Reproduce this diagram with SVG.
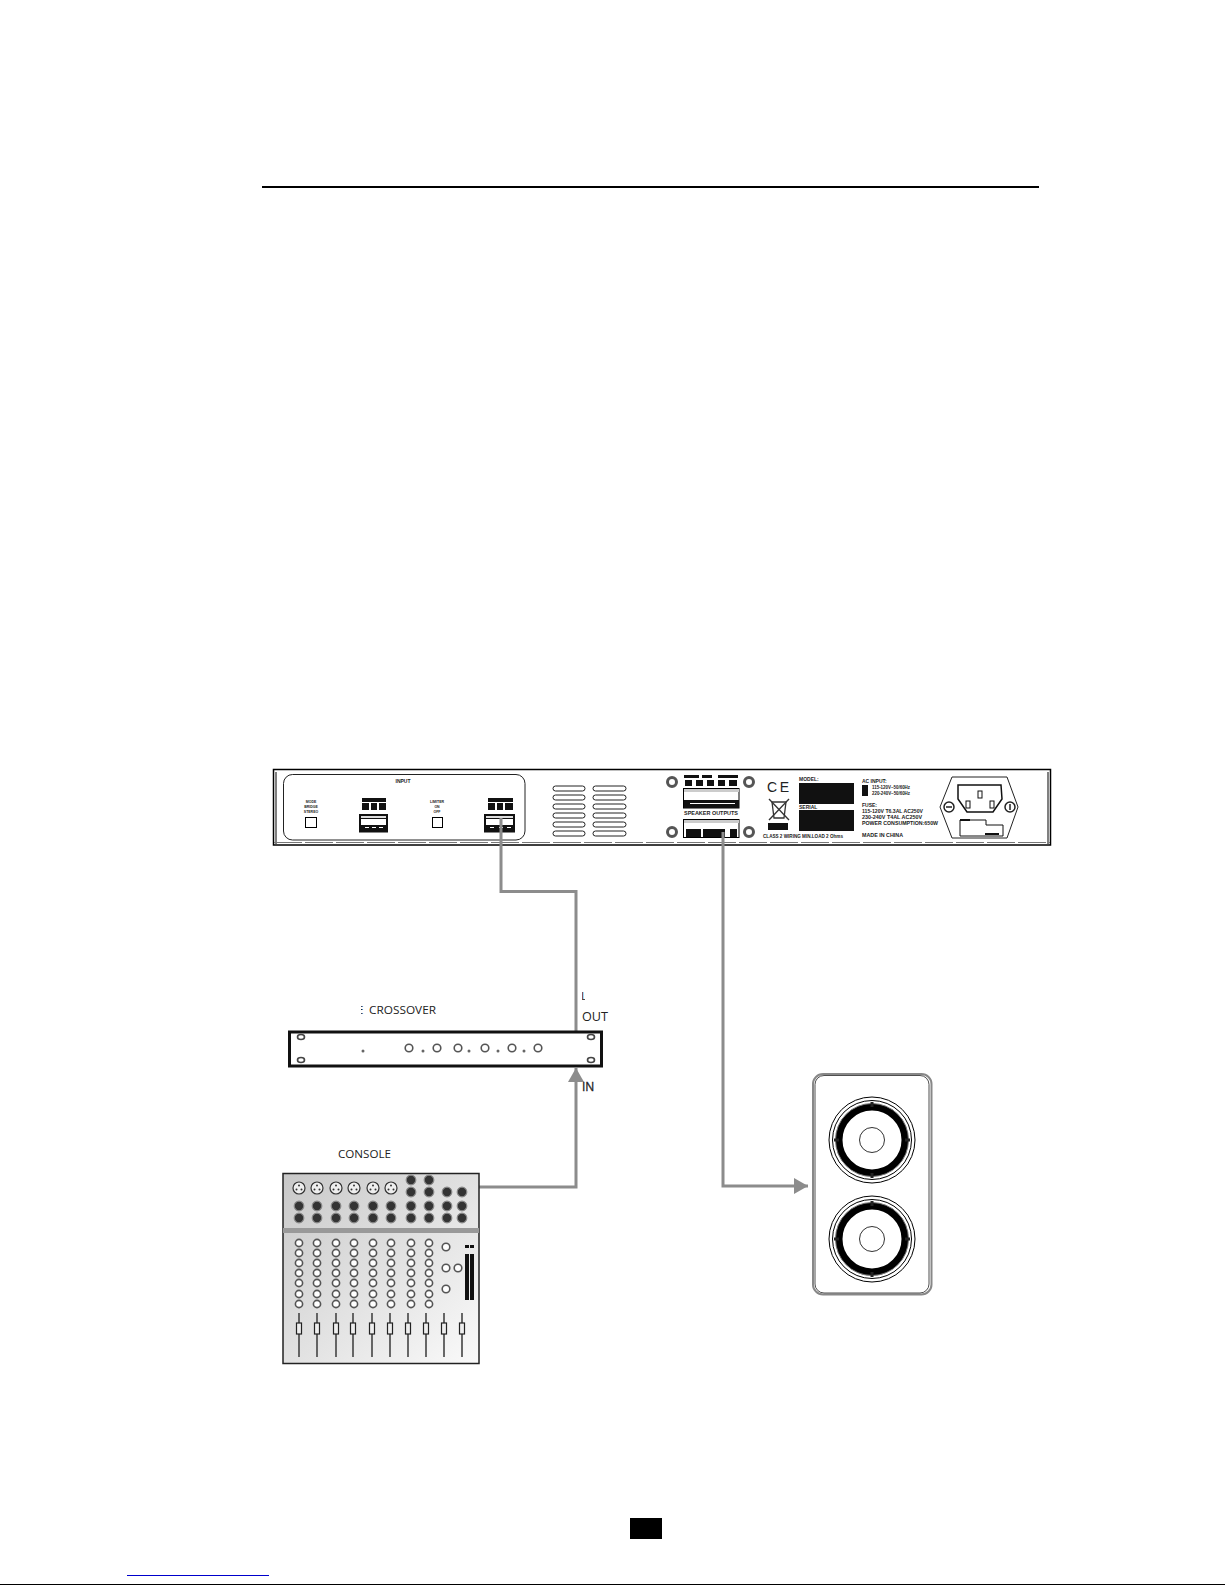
<svg xmlns="http://www.w3.org/2000/svg" xmlns:xlink="http://www.w3.org/1999/xlink" width="1225" height="1585" viewBox="0 0 1225 1585">
<style>
.t{font-family:"Liberation Sans",Arial,sans-serif;font-size:5px;fill:#222;font-weight:bold}
.l{font-family:"Open Sans","Liberation Sans",sans-serif;font-size:11.5px;fill:#222}
.w{fill:#fff;stroke:#000;stroke-width:1}
.b{fill:#111}
.c{fill:none;stroke:#8c8c8c;stroke-width:3}
.vent{fill:#fff;stroke:#222;stroke-width:1}
.screw{fill:#fff;stroke:#555;stroke-width:3}
.knob{fill:#fff;stroke:#555;stroke-width:1.6}
.hole{fill:#fff;stroke:#444;stroke-width:1.6}
</style>
<defs>
<linearGradient id="g" x1="0" y1="0" x2="1" y2="1"><stop offset="0" stop-color="#c8c8c8"/><stop offset="1" stop-color="#fafafa"/></linearGradient>
<marker id="arr" markerUnits="userSpaceOnUse" markerWidth="15" markerHeight="16" refX="14" refY="8" orient="auto"><path d="M0,0L14,8L0,16Z" fill="#8c8c8c"/></marker>
<circle id="jack" r="4.800" fill="#333" stroke="#888" stroke-width="1.200"/>
<g id="xlr"><circle r="6" fill="#eee" stroke="#333" stroke-width="1.200"/><circle cx="-2.500" cy="1.500" r="1" fill="#333"/><circle cx="2.500" cy="1.500" r="1" fill="#333"/><circle cy="-2.500" r="1" fill="#333"/></g>
<g id="col"><circle class="knob" cy="0" r="3.600"/><circle class="knob" cy="10" r="3.600"/><circle class="knob" cy="20" r="3.600"/><circle class="knob" cy="30" r="3.600"/><circle class="knob" cy="40" r="3.600"/><circle class="knob" cy="51" r="3.600"/><circle class="knob" cy="61" r="3.600"/></g>
<g id="fader"><line y1="1313" y2="1357" stroke="#444" stroke-width="1.600"/><rect x="-2.500" y="1323" width="5" height="11" fill="#eee" stroke="#222" stroke-width="1.200"/></g>
<g id="drv"><circle r="43" fill="#fff" stroke="#000" stroke-width="1"/><circle r="39.500" fill="#fff" stroke="#000" stroke-width="1"/><circle r="33" fill="#fff" stroke="#000" stroke-width="7"/><circle r="36.500" fill="none" stroke="#777" stroke-width="1"/><circle r="12.500" fill="#fff" stroke="#333" stroke-width="1"/><path d="M-1.500,-38h3v5h-3zM-1.500,33h3v5h-3zM-38,-1.500h5v3h-5zM33,-1.500h5v3h-5z" fill="#222"/></g>
<clipPath id="e"><rect x="361" y="1000" width="4" height="20"/></clipPath>
<clipPath id="ll"><rect x="582" y="985" width="3" height="20"/></clipPath>
</defs>
<rect width="1225" height="1585" fill="#fff"/>
<g id="page">
<rect x="262" y="186" width="777" height="2" fill="#000"/>
<rect x="630" y="1518" width="32" height="21" fill="#000"/>
<rect x="127" y="1575" width="142" height="1" fill="#00c"/>
<rect x="0" y="1584" width="1225" height="1" fill="#000"/>
</g>
<g id="amplifier">
<rect x="273.500" y="769.500" width="777" height="75.500" fill="#fff" stroke="#000" stroke-width="1.500"/>
<line x1="276" y1="772" x2="276" y2="844" stroke="#000"/>
<line x1="1048" y1="772" x2="1048" y2="844" stroke="#000"/>
<line x1="274" y1="842.500" x2="1050" y2="842.500" stroke="#777" stroke-dasharray="28 3"/>
<rect x="283.500" y="774.500" width="241.500" height="65.500" rx="9" fill="#fff" stroke="#222" stroke-width="1"/>
<text class="t" x="403" y="783" text-anchor="middle">INPUT</text>
<text class="t" x="311" y="803" text-anchor="middle" style="font-size:3.500px">MODE</text>
<text class="t" x="311" y="808" text-anchor="middle" style="font-size:3.500px">BRIDGE</text>
<text class="t" x="311" y="813" text-anchor="middle" style="font-size:3.500px">STEREO</text>
<text class="t" x="437" y="803" text-anchor="middle" style="font-size:3.500px">LIMITER</text>
<text class="t" x="437" y="808" text-anchor="middle" style="font-size:3.500px">ON</text>
<text class="t" x="437" y="813" text-anchor="middle" style="font-size:3.500px">OFF</text>
<rect class="w" x="305.500" y="817.500" width="11" height="10"/>
<rect class="w" x="432.500" y="817.500" width="10" height="10"/>
<rect class="b" x="362" y="798" width="24" height="4"/>
<rect class="b" x="362" y="803" width="7" height="7"/><rect class="b" x="371" y="803" width="6" height="7"/><rect class="b" x="379" y="803" width="7" height="7"/>
<rect class="b" x="359" y="814" width="29" height="18.500"/>
<rect x="361" y="816" width="25" height="2" fill="#ddd"/>
<rect x="361" y="819" width="25" height="6" fill="#fff"/>
<rect x="365" y="827" width="4" height="1" fill="#fff"/><rect x="372" y="827" width="4" height="1" fill="#fff"/><rect x="379" y="827" width="4" height="1" fill="#fff"/>
<rect class="b" x="488" y="798" width="25" height="4"/>
<rect class="b" x="488" y="803" width="7" height="7"/><rect class="b" x="497" y="803" width="6" height="7"/><rect class="b" x="505" y="803" width="8" height="7"/>
<rect class="b" x="484" y="814" width="31" height="18.500"/>
<rect x="486" y="816" width="27" height="2" fill="#ddd"/>
<rect x="486" y="819" width="27" height="6" fill="#fff"/>
<rect x="490" y="827" width="4" height="1" fill="#fff"/><rect x="499" y="827" width="4" height="1" fill="#fff"/><rect x="507" y="827" width="4" height="1" fill="#fff"/>
<g id="vents">
<rect class="vent" x="553" y="786" width="32" height="5" rx="2.500"/><rect class="vent" x="593" y="786" width="33" height="5" rx="2.500"/>
<rect class="vent" x="553" y="795" width="32" height="5" rx="2.500"/><rect class="vent" x="593" y="795" width="33" height="5" rx="2.500"/>
<rect class="vent" x="553" y="804" width="32" height="5" rx="2.500"/><rect class="vent" x="593" y="804" width="33" height="5" rx="2.500"/>
<rect class="vent" x="553" y="813" width="32" height="5" rx="2.500"/><rect class="vent" x="593" y="813" width="33" height="5" rx="2.500"/>
<rect class="vent" x="553" y="822" width="32" height="5" rx="2.500"/><rect class="vent" x="593" y="822" width="33" height="5" rx="2.500"/>
<rect class="vent" x="553" y="831" width="32" height="5" rx="2.500"/><rect class="vent" x="593" y="831" width="33" height="5" rx="2.500"/>
</g>
<circle class="screw" cx="672" cy="782" r="4.500"/><circle class="screw" cx="749" cy="782" r="4.500"/>
<circle class="screw" cx="672" cy="832" r="4.500"/><circle class="screw" cx="749" cy="832" r="4.500"/>
<rect class="b" x="684" y="775" width="15" height="3"/><rect class="b" x="702" y="775" width="10" height="3"/><rect class="b" x="718" y="775" width="20" height="3"/>
<rect class="b" x="685" y="780" width="7" height="6"/><rect class="b" x="696" y="780" width="7" height="6"/><rect class="b" x="707" y="780" width="7" height="6"/><rect class="b" x="718" y="780" width="7" height="6"/><rect class="b" x="729" y="780" width="8" height="6"/>
<rect class="w" x="683.500" y="788.500" width="55.500" height="19.500"/>
<rect x="684" y="789" width="55" height="3" fill="#ccc"/>
<rect class="b" x="684" y="800" width="55" height="8"/>
<rect x="690" y="803" width="45" height="1" fill="#fff"/>
<text class="t" x="711" y="815" text-anchor="middle" textLength="54" lengthAdjust="spacingAndGlyphs">SPEAKER OUTPUTS</text>
<rect class="w" x="683.500" y="819.500" width="55.500" height="18"/>
<rect x="684" y="820" width="55" height="3" fill="#ccc"/>
<rect class="b" x="686" y="829" width="15" height="8"/><rect class="b" x="703" y="829" width="22" height="8"/><rect class="b" x="730" y="829" width="7" height="8"/>
<text x="767" y="792" textLength="22" style="font-family:'Liberation Sans',sans-serif;font-size:14px;fill:#222">CE</text>
<g id="weee" stroke="#333" stroke-width="1.300" fill="none"><path d="M772,802L786,802L784,818L774,818Z"/><line x1="769" y1="799" x2="789" y2="820"/><line x1="789" y1="799" x2="769" y2="820"/></g>
<rect class="b" x="768" y="823" width="20" height="7"/>
<text class="t" x="799" y="781">MODEL:</text>
<rect class="b" x="799" y="783" width="55" height="21"/>
<text class="t" x="799" y="809">SERIAL</text>
<rect class="b" x="799" y="810" width="55" height="21"/>
<text class="t" x="763" y="838" textLength="80" lengthAdjust="spacingAndGlyphs">CLASS 2 WIRING MIN.LOAD 2 Ohms</text>
<text class="t" x="862" y="783">AC INPUT:</text>
<rect class="b" x="862" y="785" width="6" height="11"/>
<text class="t" x="872" y="789" textLength="38" lengthAdjust="spacingAndGlyphs">115-120V~50/60Hz</text>
<text class="t" x="872" y="795" textLength="38" lengthAdjust="spacingAndGlyphs">220-240V~50/60Hz</text>
<text class="t" x="862" y="807">FUSE:</text>
<text class="t" x="862" y="813" textLength="61" lengthAdjust="spacingAndGlyphs">115-120V T6.3AL AC250V</text>
<text class="t" x="862" y="819" textLength="60" lengthAdjust="spacingAndGlyphs">230-240V T4AL AC250V</text>
<text class="t" x="862" y="825" textLength="76" lengthAdjust="spacingAndGlyphs">POWER CONSUMPTION:650W</text>
<text class="t" x="862" y="837" textLength="41" lengthAdjust="spacingAndGlyphs">MADE IN CHINA</text>
<g id="iec">
<path d="M952,777L1007,777L1018,807L1007,838L952,838L940,807Z" fill="#fff" stroke="#222" stroke-width="1"/>
<circle cx="949" cy="807" r="5" fill="#fff" stroke="#222" stroke-width="1.500"/><line x1="946" y1="807" x2="952" y2="807" stroke="#222" stroke-width="1.500"/>
<circle cx="1010" cy="807" r="5" fill="#fff" stroke="#222" stroke-width="1.500"/><line x1="1010" y1="804" x2="1010" y2="810" stroke="#222" stroke-width="1.500"/>
<path d="M958,785L1001,785L1002,799L993,812L967,812L958,799Z" fill="#fff" stroke="#111" stroke-width="1.500"/>
<rect x="966" y="801" width="4" height="7" fill="#fff" stroke="#111"/><rect x="978" y="791" width="4" height="7" fill="#fff" stroke="#111"/><rect x="990" y="801" width="4" height="7" fill="#fff" stroke="#111"/>
<path d="M960,820L986,820L986,825L1003,825L1003,836L960,836Z" fill="#fff" stroke="#111" stroke-width="1"/>
<rect x="960" y="819" width="10" height="2" fill="#111"/><rect x="985" y="833" width="14" height="2" fill="#111"/>
</g>
</g>
<g id="connectors">
<path class="c" d="M501,818V891.500H576V1031"/>
<path class="c" d="M479,1187H576V1068" marker-end="url(#arr)"/>
<path class="c" d="M723,832V1186H808" marker-end="url(#arr)"/>
</g>
<g id="crossover">
<rect x="289.500" y="1032" width="312" height="34" fill="#fff" stroke="#111" stroke-width="3"/>
<ellipse class="hole" cx="301" cy="1037" rx="3.500" ry="2.500"/><ellipse class="hole" cx="301" cy="1060" rx="3.500" ry="2.500"/>
<ellipse class="hole" cx="591" cy="1037" rx="3.500" ry="2.500"/><ellipse class="hole" cx="591" cy="1060" rx="3.500" ry="2.500"/>
<circle class="knob" cx="409" cy="1048" r="3.800"/><circle class="knob" cx="437" cy="1048" r="3.800"/><circle class="knob" cx="458" cy="1048" r="3.800"/><circle class="knob" cx="485" cy="1048" r="3.800"/><circle class="knob" cx="512" cy="1048" r="3.800"/><circle class="knob" cx="538" cy="1048" r="3.800"/>
<circle cx="363" cy="1051" r="1.500" fill="#666"/><circle cx="423" cy="1051" r="1.500" fill="#666"/><circle cx="469" cy="1051" r="1.500" fill="#666"/><circle cx="498" cy="1051" r="1.500" fill="#666"/><circle cx="524" cy="1051" r="1.500" fill="#666"/>
<text class="l" x="357" y="1014" clip-path="url(#e)">E</text>
<text class="l" x="369" y="1014" textLength="67" lengthAdjust="spacingAndGlyphs">CROSSOVER</text>
</g>
<g id="port-labels">
<text class="l" x="581" y="1000" clip-path="url(#ll)">L</text>
<text class="l" x="582" y="1021" textLength="26" lengthAdjust="spacingAndGlyphs" style="font-size:12.500px">OUT</text>
<text class="l" x="582" y="1091" style="font-size:12px;stroke:#222;stroke-width:0.300">IN</text>
</g>
<g id="console">
<rect x="283" y="1173.500" width="196" height="190" fill="url(#g)" stroke="#222" stroke-width="1.500"/>
<rect x="283" y="1228" width="196" height="5" fill="#999"/>
<text class="l" x="338" y="1158" textLength="53" lengthAdjust="spacingAndGlyphs">CONSOLE</text>
<use xlink:href="#xlr" x="299" y="1188"/><use xlink:href="#xlr" x="317" y="1188"/><use xlink:href="#xlr" x="336" y="1188"/><use xlink:href="#xlr" x="354" y="1188"/><use xlink:href="#xlr" x="373" y="1188"/><use xlink:href="#xlr" x="391" y="1188"/>
<use xlink:href="#jack" x="411" y="1180"/><use xlink:href="#jack" x="429" y="1180"/>
<use xlink:href="#jack" x="411" y="1192"/><use xlink:href="#jack" x="429" y="1192"/><use xlink:href="#jack" x="447" y="1192"/><use xlink:href="#jack" x="462" y="1192"/>
<use xlink:href="#jack" x="299" y="1206"/><use xlink:href="#jack" x="317" y="1206"/><use xlink:href="#jack" x="336" y="1206"/><use xlink:href="#jack" x="354" y="1206"/><use xlink:href="#jack" x="373" y="1206"/><use xlink:href="#jack" x="391" y="1206"/><use xlink:href="#jack" x="411" y="1206"/><use xlink:href="#jack" x="429" y="1206"/><use xlink:href="#jack" x="447" y="1206"/><use xlink:href="#jack" x="462" y="1206"/>
<use xlink:href="#jack" x="299" y="1218"/><use xlink:href="#jack" x="317" y="1218"/><use xlink:href="#jack" x="336" y="1218"/><use xlink:href="#jack" x="354" y="1218"/><use xlink:href="#jack" x="373" y="1218"/><use xlink:href="#jack" x="391" y="1218"/><use xlink:href="#jack" x="411" y="1218"/><use xlink:href="#jack" x="429" y="1218"/><use xlink:href="#jack" x="447" y="1218"/><use xlink:href="#jack" x="462" y="1218"/>
<use xlink:href="#col" x="299" y="1243"/><use xlink:href="#col" x="317" y="1243"/><use xlink:href="#col" x="336" y="1243"/><use xlink:href="#col" x="354" y="1243"/><use xlink:href="#col" x="373" y="1243"/><use xlink:href="#col" x="391" y="1243"/><use xlink:href="#col" x="411" y="1243"/><use xlink:href="#col" x="429" y="1243"/>
<circle class="knob" cx="446" cy="1247" r="3.800"/><circle class="knob" cx="446" cy="1268" r="3.800"/><circle class="knob" cx="458" cy="1268" r="3.800"/><circle class="knob" cx="446" cy="1289" r="3.800"/>
<rect class="b" x="465" y="1245" width="4" height="3"/><rect class="b" x="470" y="1245" width="4" height="3"/>
<rect class="b" x="465" y="1254" width="4" height="46"/><rect class="b" x="470" y="1254" width="4" height="46"/>
<use xlink:href="#fader" x="299"/><use xlink:href="#fader" x="317"/><use xlink:href="#fader" x="336"/><use xlink:href="#fader" x="353"/><use xlink:href="#fader" x="372"/><use xlink:href="#fader" x="390"/><use xlink:href="#fader" x="408"/><use xlink:href="#fader" x="426"/><use xlink:href="#fader" x="444"/><use xlink:href="#fader" x="462"/>
</g>
<g id="speaker">
<rect x="813" y="1074" width="118.500" height="220.500" rx="10" fill="#fff" stroke="#888" stroke-width="2"/>
<rect x="815" y="1075.500" width="114" height="217.500" rx="9" fill="none" stroke="#222" stroke-width="0.800"/>
<use xlink:href="#drv" x="872" y="1140"/>
<use xlink:href="#drv" x="872" y="1239"/>
</g>
</svg>
